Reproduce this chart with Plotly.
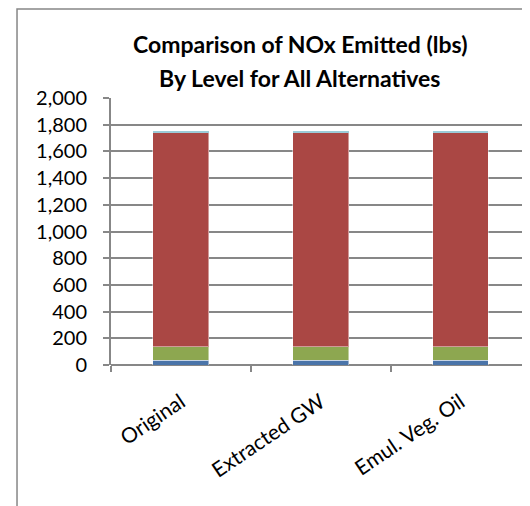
import plotly.graph_objects as go

categories = ["Original", "Extracted GW", "Emul. Veg. Oil"]
series_names = ["Level 1", "Level 2", "Level 3", "Level 4"]
level1 = [37, 37, 37]
level2 = [101, 101, 101]
level3 = [1600, 1600, 1600]
level4 = [12, 12, 12]
y_ticks = [0, 200, 400, 600, 800, 1000, 1200, 1400, 1600, 1800, 2000]

colors = ["#4A74A9", "#8DA750", "#AA4744", "#4CA0B6"]
font_family = "Lato, 'Open Sans', sans-serif"
grid = "#878787"

fig = go.Figure()
for name, vals, col in zip(series_names, [level1, level2, level3, level4], colors):
    fig.add_trace(go.Bar(
        x=categories, y=vals, name=name,
        marker=dict(color=col, line=dict(color="rgba(255,255,255,0.45)", width=1)),
    ))

fig.update_layout(
    width=522, height=498,
    barmode="stack", bargap=0.6,
    showlegend=False,
    paper_bgcolor="white", plot_bgcolor="white",
    margin=dict(l=103, r=0, t=90, b=141, autoexpand=False),
    font=dict(family=font_family, color="black"),
    xaxis=dict(
        range=[-0.5, 2.497], showgrid=False, tickson="boundaries",
        ticks="outside", ticklen=6, tickwidth=2, tickcolor=grid,
        showline=False, tickangle=-34, ticklabelstandoff=20,
        tickfont=dict(size=21, family=font_family, color="black"),
    ),
    yaxis=dict(
        range=[0, 2000], tickvals=y_ticks, tickformat=",",
        showgrid=True, gridcolor=grid, gridwidth=2,
        zeroline=True, zerolinecolor=grid, zerolinewidth=2,
        showline=True, linecolor=grid, linewidth=2,
        ticks="outside", ticklen=6, tickwidth=2, tickcolor=grid,
        ticklabelstandoff=12,
        tickfont=dict(size=20, family=font_family, color="black"),
    ),
    annotations=[
        dict(text="<b>Comparison of NOx Emitted (lbs)</b>", xref="paper", yref="paper",
             x=0.451, y=1.2022, xanchor="center", yanchor="middle", showarrow=False,
             font=dict(size=23, family=font_family, color="black")),
        dict(text="<b>By Level for All Alternatives</b>", xref="paper", yref="paper",
             x=0.451, y=1.0749, xanchor="center", yanchor="middle", showarrow=False,
             font=dict(size=23, family=font_family, color="black")),
    ],
    shapes=[
        dict(type="rect", xref="paper", yref="paper",
             x0=-0.2243, y0=-0.7, x1=1.2, y1=1.3333,
             line=dict(color=grid, width=1.5), fillcolor="rgba(0,0,0,0)", layer="below"),
    ],
)

fig.write_html("out.html")
